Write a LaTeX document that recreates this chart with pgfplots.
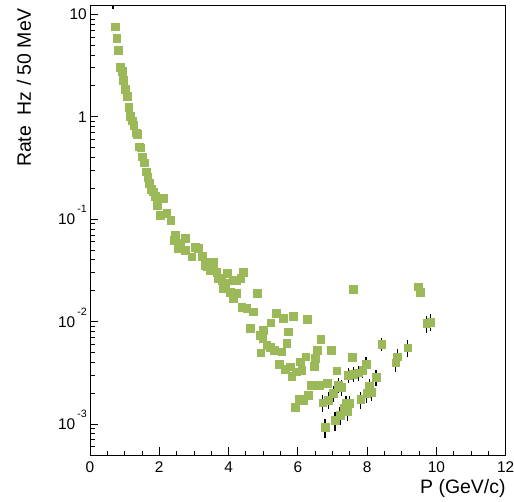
\documentclass[border=0pt]{standalone}
\usepackage{pgfplots}
\pgfplotsset{compat=1.18}
\usepackage{fontspec}
\setmainfont{Liberation Sans}
\definecolor{markgreen}{RGB}{155,185,88}
\newcommand{\expo}[1]{10\hspace{2bp}\raisebox{12bp}{\fontsize{10.7}{11}\selectfont #1}}
\begin{document}
\begin{tikzpicture}
\path[use as bounding box] (0,0) rectangle (514bp,502bp);
\begin{axis}[
  at={(90bp,47bp)}, anchor=south west,
  scale only axis, width=415.7bp, height=449.3bp,
  xmin=0, xmax=12, ymode=log, ymin=4.97e-4, ymax=12.13,
  xtick={0,2,4,6,8,10,12}, xticklabels={0,2,4,6,8,10,12},
  minor x tick num=3,
  ytick={1e-3,1e-2,1e-1,1,10},
  yticklabels={\expo{-3},\expo{-2},\expo{-1},1\hspace{14bp},10\hspace{8bp}},
  minor ytick={6e-4,7e-4,8e-4,9e-4,
    2e-3,3e-3,4e-3,5e-3,6e-3,7e-3,8e-3,9e-3,
    2e-2,3e-2,4e-2,5e-2,6e-2,7e-2,8e-2,9e-2,
    2e-1,3e-1,4e-1,5e-1,6e-1,7e-1,8e-1,9e-1,
    2,3,4,5,6,7,8,9},
  tick align=inside, xtick pos=bottom, ytick pos=left,
  major tick length=8bp, minor tick length=4.5bp,
  axis line style={line width=1bp},
  every tick/.style={black, line width=0.8bp},
  tick label style={font=\fontsize{15.5}{16}\selectfont},
  xticklabel style={inner sep=0pt, anchor=north, yshift=-6.5bp},
  yticklabel style={inner sep=0pt, anchor=base east, xshift=-3bp, yshift=-5.7bp},
  clip=true,
]
% momentum spectrum, points without visible uncertainties
\addplot[only marks, mark=square*, mark size=3.9bp,
  mark options={fill=markgreen, draw=markgreen, line width=0.3bp}] coordinates {
(0.722,7.57) (0.771,5.83) (0.817,4.48) (0.866,3.04) (0.924,2.79)
(0.961,2.28) (1.010,1.85) (1.068,1.60) (1.117,1.25) (1.163,1.02)
(1.221,0.914) (1.262,0.830) (1.328,0.698) (1.366,0.678) (1.423,0.509)
(1.464,0.498) (1.510,0.407) (1.568,0.356) (1.617,0.290) (1.666,0.256)
(1.712,0.224) (1.761,0.195) (1.827,0.185) (1.876,0.168) (1.943,0.137)
(2.021,0.110) (2.116,0.160) (2.214,0.114) (2.330,0.098) (2.454,0.070)
(2.425,0.0625) (2.598,0.058) (2.549,0.0519) (2.742,0.0649) (2.742,0.0499)
(2.936,0.0430) (3.031,0.0537) (3.126,0.0519) (3.233,0.0436) (3.320,0.0356)
(3.464,0.0384) (3.560,0.0384) (3.369,0.0343) (3.464,0.0318) (3.560,0.0318)
(3.658,0.0306) (3.704,0.0264) (3.802,0.0254) (3.897,0.0236) (3.848,0.0211)
(3.964,0.0296) (4.042,0.0195) (4.137,0.0254) (4.215,0.0254) (4.351,0.0264)
(4.235,0.0189) (4.137,0.0169) (4.426,0.0306) (4.379,0.0139) (4.524,0.0135)
(4.714,0.0125) (4.830,0.0189) (4.619,0.00858) (5.003,0.00826) (4.908,0.00738)
(5.217,0.00973) (5.370,0.0120) (5.580,0.0107) (5.869,0.0113) (6.273,0.0105)
(5.101,0.00590) (5.196,0.00560) (5.312,0.00527) (5.534,0.00507) (5.678,0.00612)
(5.725,0.00795) (4.928,0.00496) (4.986,0.00686) (6.562,0.00527) (5.465,0.00385)
(5.629,0.00341) (5.774,0.00362) (5.823,0.00294) (6.062,0.00405) (6.227,0.00453)
(6.495,0.00437) (6.467,0.00368) (6.112,0.00336) (5.947,0.00324) (7.601,0.0206)
(6.042,0.00174) (6.158,0.00171) (6.302,0.00192) (5.918,0.00147) (6.371,0.00240)
(6.620,0.00240) (6.660,0.00675) (6.957,0.00527) (7.122,0.00331) (7.564,0.00447)
(6.850,0.00252)
};
% high-momentum points with statistical error bars
\addplot[only marks, mark=square*, mark size=3.9bp,
  mark options={fill=markgreen, draw=markgreen, line width=0.3bp},
  error bars/.cd, y dir=both, y explicit relative,
  error bar style={black, line width=1.3bp}, error mark=none] coordinates {
(0.664,16.0) +- (0,0.30)
(7.168,0.00240) +- (0,0.17)
(7.266,0.00228) +- (0,0.17)
(6.718,0.00161) +- (0,0.19)
(6.879,0.00171) +- (0,0.19)
(7.024,0.00199) +- (0,0.18)
(7.457,0.00300) +- (0,0.17)
(7.601,0.00307) +- (0,0.17)
(7.745,0.00316) +- (0,0.17)
(7.873,0.00336) +- (0,0.17)
(7.968,0.00385) +- (0,0.17)
(8.421,0.00603) +- (0,0.14)
(8.256,0.00285) +- (0,0.18)
(8.063,0.00235) +- (0,0.18)
(8.132,0.00206) +- (0,0.19)
(7.988,0.00199) +- (0,0.19)
(7.815,0.00174) +- (0,0.19)
(8.871,0.00453) +- (0,0.18)
(8.825,0.00396) +- (0,0.18)
(9.172,0.00555) +- (0,0.19)
(9.720,0.00960) +- (0,0.19)
(9.835,0.00989) +- (0,0.19)
(7.390,0.00159) +- (0,0.19)
(7.486,0.00159) +- (0,0.19)
(7.341,0.00142) +- (0,0.19)
(7.428,0.00132) +- (0,0.20)
(7.217,0.00122) +- (0,0.20)
(7.073,0.00109) +- (0,0.21)
(6.784,0.000926) +- (0,0.21)
(9.478,0.0219) +- (0,0.08)
(9.527,0.0195) +- (0,0.10)
};
\end{axis}
\node[anchor=north east, inner sep=0pt, font=\fontsize{19.5}{20}\selectfont]
  at (505.7bp,23bp) {P (GeV/c)};
\node[rotate=90, anchor=east, inner sep=0pt, font=\fontsize{19.5}{20}\selectfont]
  at (24bp,494bp) {Rate\ \ Hz / 50 MeV};
\end{tikzpicture}
\end{document}
